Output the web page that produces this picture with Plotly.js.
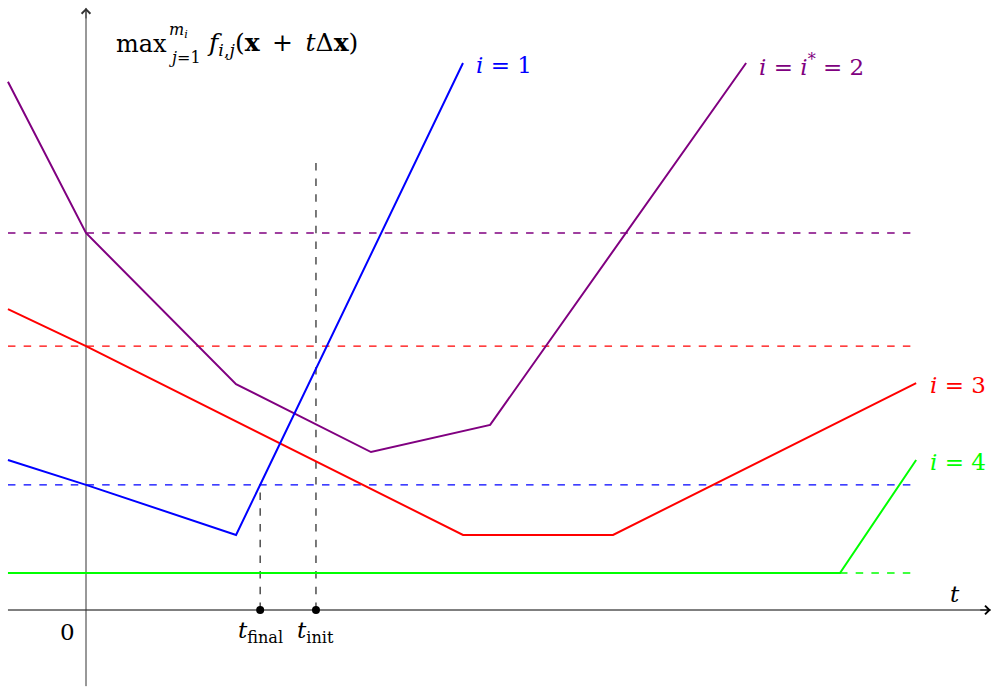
<!DOCTYPE html>
<html>
<head>
<meta charset="utf-8">
<script src="https://cdn.plot.ly/plotly-3.0.1.min.js"></script>
<style>html,body{margin:0;padding:0;background:#fff}#chart{width:992px;height:689px}</style>
</head>
<body>
<div id="chart"></div>
<script>
// ---- data (t, value) ----
const blueT   = [-2.07, 0, 3.98, 10.0];
const blueV   = [3.98, 3.32, 1.99, 14.51];
const purpleT = [-2.07, 0, 3.98, 7.56, 10.72, 17.51];
const purpleV = [14.01, 10.0, 5.99, 4.19, 4.91, 14.51];
const redT    = [-2.07, 0, 10.0, 13.98, 22.02];
const redV    = [7.98, 7.0, 1.99, 1.99, 6.02];
const greenT  = [-2.07, 20.0, 22.02];
const greenV  = [0.98, 0.98, 3.98];

// dashed reference levels (values at t = 0)
const levelPurple = 10.0;
const levelRed = 7.0;
const levelBlue = 3.32;
const levelGreen = 0.98;
const dashStart = -2.07, dashEnd = 21.9, greenDashStart = 20.0;

// step sizes
const tFinal = 4.62;
const tInit = 6.10;
const tInitTop = 12.0;
const tFinalTop = levelBlue;

// axes extents
const tAxisMin = -2.07, tAxisMax = 24.0;
const vAxisMin = -2.02, vAxisMax = 15.97;

// labels
const seriesLabels = ["<i>i</i> = 1", "<i>i</i> = <i>i</i><sup>*</sup> = 2", "<i>i</i> = 3", "<i>i</i> = 4"];
const seriesLabelT = [10.29, 17.80, 22.33, 22.33];
const seriesLabelV = [14.46, 14.46, 5.97, 3.93];

const C = {blue:"#0000ff", purple:"#800080", red:"#ff0000", green:"#00ff00"};
const FONT = "DejaVu Serif";
const FS = 23;
const DASH = "7.5px,8.2px";

function line(x, y, color, width, dash) {
  return {x: x, y: y, type: "scatter", mode: "lines", hoverinfo: "skip",
          line: {color: color, width: width, dash: dash || "solid", shape: "linear"}};
}

const traces = [
  // axes
  line([tAxisMin, tAxisMax], [0, 0], "#000", 1),
  line([0, 0], [vAxisMin, vAxisMax], "#333", 1),
  // dashed levels
  line([dashStart, dashEnd], [levelPurple, levelPurple], C.purple, 1.4, DASH),
  line([dashStart, dashEnd], [levelRed, levelRed], C.red, 1.4, DASH),
  line([dashStart, dashEnd], [levelBlue, levelBlue], C.blue, 1.4, DASH),
  line([greenDashStart, dashEnd], [levelGreen, levelGreen], C.green, 1.4, DASH),
  line([tFinal, tFinal], [0, tFinalTop], "#333", 1.3, DASH),
  line([tInit, tInit], [0, tInitTop], "#333", 1.3, DASH),
  // functions
  line(greenT, greenV, C.green, 2),
  line(redT, redV, C.red, 2),
  line(purpleT, purpleV, C.purple, 2),
  line(blueT, blueV, C.blue, 2),
  // step points
  {x: [tFinal, tInit], y: [0, 0], type: "scatter", mode: "markers", hoverinfo: "skip",
   marker: {color: "#000", size: 8}}
];

const annotations = [];
// arrow tips
annotations.push({x: tAxisMax, y: 0, xref: "x", yref: "y", ax: -12, ay: 0, text: "",
  showarrow: true, arrowhead: 4, arrowsize: 1.7, arrowwidth: 1, arrowcolor: "#000"});
annotations.push({x: 0, y: vAxisMax, xref: "x", yref: "y", ax: 0, ay: 12, text: "",
  showarrow: true, arrowhead: 4, arrowsize: 1.7, arrowwidth: 1, arrowcolor: "#333"});

const seriesColors = [C.blue, C.purple, C.red, C.green];
seriesLabels.forEach((txt, k) => {
  annotations.push({x: seriesLabelT[k], y: seriesLabelV[k], xref: "x", yref: "y",
    text: txt, showarrow: false, xanchor: "left", yanchor: "middle",
    font: {family: FONT, size: FS, color: seriesColors[k]}});
});

function txt(x, y, t, xa, size) {
  annotations.push({x: x, y: y, xref: "x", yref: "y", text: t, showarrow: false,
    xanchor: xa || "center", yanchor: "middle",
    font: {family: FONT, size: size || FS, color: "#000"}});
}
// title expression
txt(0.74, 15.0, "max", "left", 24);
txt(2.16, 15.36, "<i>m</i><sub><i>i</i></sub>", "left", 16);
txt(2.16, 14.66, "<i>j</i>=1", "left", 16);
txt(3.16, 15.0, "<i>f</i><sub><i>i</i>,<i>j</i></sub>(<b>x</b>&#8194;+&#8194;<i>t</i>Δ<b>x</b>)", "left", 25);
// axis labels
txt(23.05, 0.42, "<i>t</i>", "center");
txt(-0.5, -0.58, "0", "center");
txt(tFinal, -0.58, "<i>t</i><sub>final</sub>", "center");
txt(tInit, -0.58, "<i>t</i><sub>init</sub>", "center");

const layout = {
  width: 992, height: 689,
  margin: {l: 0, r: 0, t: 0, b: 0, pad: 0},
  paper_bgcolor: "#fff", plot_bgcolor: "#fff",
  showlegend: false,
  font: {family: FONT},
  xaxis: {range: [-2.2812, 24.032], visible: false, fixedrange: true},
  yaxis: {range: [-2.0955, 16.180], visible: false, fixedrange: true},
  annotations: annotations
};

Plotly.newPlot("chart", traces, layout, {staticPlot: true, displayModeBar: false});
</script>
</body>
</html>
